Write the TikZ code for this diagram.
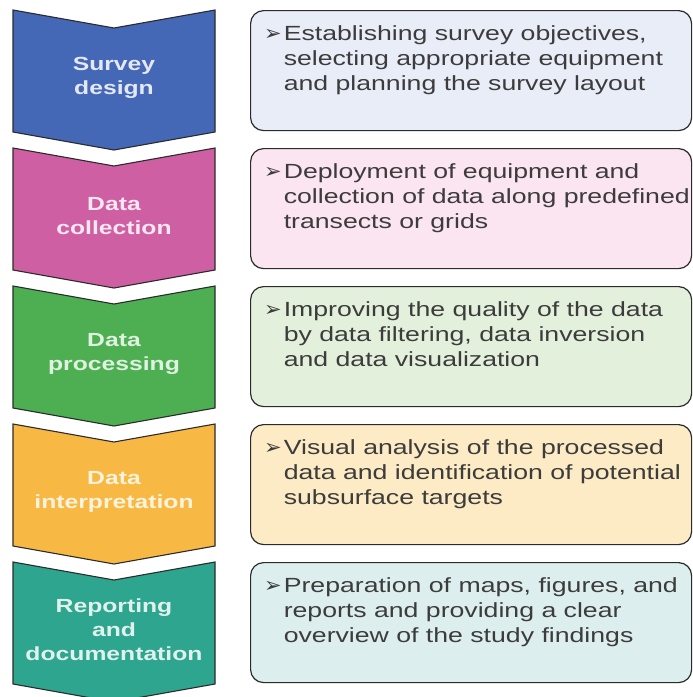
\documentclass[tikz,border=0pt]{standalone}
\usepackage{fontspec}
\setmainfont[FakeStretch=1.3]{Liberation Sans}
\newfontfamily\symfont{DejaVu Sans}
\usepackage{xcolor}
\definecolor{designblue}{HTML}{4467B6}
\definecolor{collectpink}{HTML}{CF5FA3}
\definecolor{processgreen}{HTML}{4DAF52}
\definecolor{interpamber}{HTML}{F7B944}
\definecolor{reportteal}{HTML}{2EA58E}
\definecolor{designbg}{HTML}{E9EDF8}
\definecolor{collectbg}{HTML}{FBE5F0}
\definecolor{processbg}{HTML}{E3F0DC}
\definecolor{interpbg}{HTML}{FCEBC4}
\definecolor{reportbg}{HTML}{DDEEEE}
\definecolor{edge}{HTML}{2B2B2B}
\definecolor{notegray}{HTML}{3C3C3C}
\usetikzlibrary{positioning}

\newcommand{\bul}{{\symfont\fontsize{21}{21}\selectfont ➢}}
\newcommand{\stepnote}[3]{\begin{tabular}{@{}l@{\hspace{2pt}}l@{}}\bul & #1\\ & #2\\ & #3\end{tabular}}

\begin{document}
\begin{tikzpicture}[x=1pt, y=-1pt,
  chev/.style={draw=edge, line width=1.1pt, line join=miter},
  stagetext/.style={font=\fontsize{19}{24}\selectfont\bfseries, align=center, inner sep=0pt},
  notebox/.style={draw=edge, line width=1.2pt, rounded corners=13pt, minimum width=441pt, minimum height=120pt, anchor=north west, inner sep=0pt},
  notetext/.style={font=\fontsize{20.5}{25}\selectfont, text=notegray, inner sep=0pt}
]
  \useasboundingbox (0,0) rectangle (693,697);

  % chevrons
  \filldraw[chev, fill=designblue] (13,10) -- (114,28) -- (215,10) -- (215,132) -- (114,150) -- (13,132) -- cycle;
  \filldraw[chev, fill=collectpink] (13,148) -- (114,166) -- (215,148) -- (215,270) -- (114,288) -- (13,270) -- cycle;
  \filldraw[chev, fill=processgreen] (13,286) -- (114,304) -- (215,286) -- (215,408) -- (114,426) -- (13,408) -- cycle;
  \filldraw[chev, fill=interpamber] (13,424) -- (114,442) -- (215,424) -- (215,546) -- (114,564) -- (13,546) -- cycle;
  \filldraw[chev, fill=reportteal] (13,562) -- (114,580) -- (215,562) -- (215,684) -- (114,702) -- (13,684) -- cycle;

  \node[stagetext, text=designblue!15!white] (design) at (114,78) {Survey\\design};
  \node[stagetext, text=collectpink!15!white] (collect) at (114,216) {Data\\collection};
  \node[stagetext, text=processgreen!18!white] (process) at (114,354) {Data\\processing};
  \node[stagetext, text=interpamber!18!white] (interp) at (114,492) {Data\\interpretation};
  \node[stagetext, text=reportteal!15!white] (report) at (114,630) {Reporting\\and\\documentation};

  % notes
  \node[notebox, fill=designbg] (note1) at (250,10) {};
  \node[notebox, fill=collectbg] (note2) at (250,148) {};
  \node[notebox, fill=processbg] (note3) at (250,286) {};
  \node[notebox, fill=interpbg] (note4) at (250,424) {};
  \node[notebox, fill=reportbg] (note5) at (250,562) {};

  \node[notetext, below right=13pt and 14pt of note1.north west] (text1) {\stepnote{Establishing survey objectives,}{selecting appropriate equipment}{and planning the survey layout}};
  \node[notetext, below right=13pt and 14pt of note2.north west] (text2) {\stepnote{Deployment of equipment and}{collection of data along predefined}{transects or grids}};
  \node[notetext, below right=13pt and 14pt of note3.north west] (text3) {\stepnote{Improving the quality of the data}{by data filtering, data inversion}{and data visualization}};
  \node[notetext, below right=13pt and 14pt of note4.north west] (text4) {\stepnote{Visual analysis of the processed}{data and identification of potential}{subsurface targets}};
  \node[notetext, below right=13pt and 14pt of note5.north west] (text5) {\stepnote{Preparation of maps, figures, and}{reports and providing a clear}{overview of the study findings}};
\end{tikzpicture}
\end{document}
